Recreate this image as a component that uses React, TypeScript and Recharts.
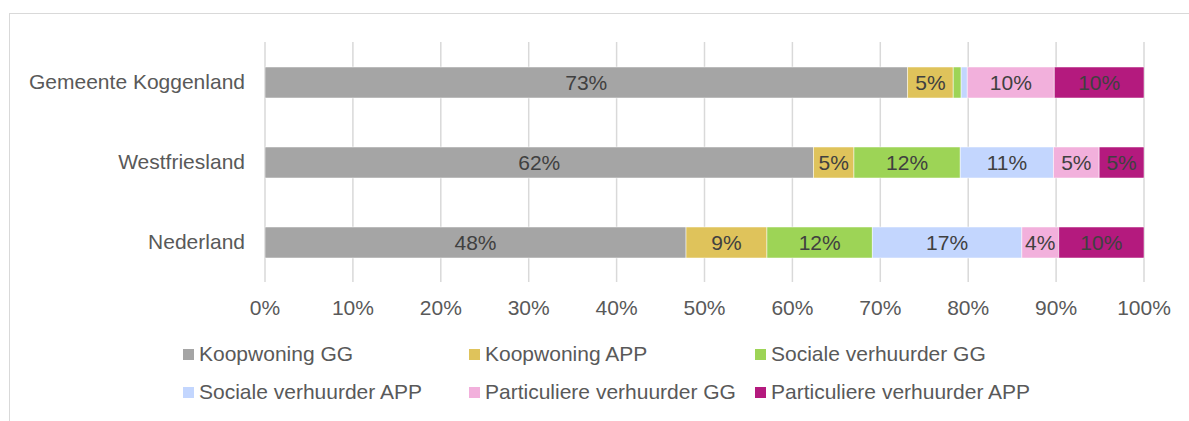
import React from "react";
import { BarChart, Bar, XAxis, YAxis, CartesianGrid, Legend, LabelList } from "recharts";

const categories = ["Gemeente Koggenland", "Westfriesland", "Nederland"];
const koopGG = [73.1, 62.4, 47.9];
const koopAPP = [5.2, 4.6, 9.2];
const socGG = [0.9, 12.1, 12.0];
const socAPP = [0.7, 10.6, 17.0];
const partGG = [9.9, 5.2, 4.2];
const partAPP = [10.2, 5.1, 9.7];
const xTicks = [0, 10, 20, 30, 40, 50, 60, 70, 80, 90, 100];

const series = [
  { key: "koopGG", name: "Koopwoning GG", color: "#A5A5A5", values: koopGG },
  { key: "koopAPP", name: "Koopwoning APP", color: "#DFC35B", values: koopAPP },
  { key: "socGG", name: "Sociale verhuurder GG", color: "#9DD456", values: socGG },
  { key: "socAPP", name: "Sociale verhuurder APP", color: "#C3D6FE", values: socAPP },
  { key: "partGG", name: "Particuliere verhuurder GG", color: "#F2B0DC", values: partGG },
  { key: "partAPP", name: "Particuliere verhuurder APP", color: "#B41A7E", values: partAPP },
];

const data = categories.map((name, i) => {
  const row: Record<string, string | number> = { name };
  series.forEach((s) => {
    row[s.key] = s.values[i];
  });
  return row;
});

const FONT = '"Liberation Sans", Arial, sans-serif';
const FS = 21;

function LegendBox() {
  return (
    <div
      style={{
        display: "grid",
        gridTemplateColumns: "286px 286px 286px",
        rowGap: 14,
        paddingLeft: 183,
        fontFamily: FONT,
        fontSize: FS,
        color: "#595959",
      }}
    >
      {series.map((s) => (
        <div key={s.key} style={{ display: "flex", alignItems: "center", height: 24 }}>
          <span style={{ width: 11, height: 11, background: s.color, marginRight: 5 }} />
          <span>{s.name}</span>
        </div>
      ))}
    </div>
  );
}

export default function App() {
  return (
    <div style={{ position: "relative", width: 1189, height: 421, overflow: "hidden", background: "#fff" }}>
      <style>{`body{margin:0}`}</style>
      <div
        style={{
          position: "absolute",
          left: 9,
          top: 13,
          width: 1300,
          height: 500,
          border: "1.5px solid #d9d9d9",
        }}
      />
      <div style={{ position: "absolute", left: 0, top: 0 }}>
        <BarChart
          width={1189}
          height={421}
          data={data}
          layout="vertical"
          margin={{ top: 42, right: 45, bottom: 37, left: 10 }}
          barSize={31}
        >
          <CartesianGrid horizontal={false} stroke="#d9d9d9" strokeWidth={1.5} />
          <XAxis
            type="number"
            domain={[0, 100]}
            ticks={xTicks}
            tickFormatter={(v) => `${v}%`}
            axisLine={false}
            tickLine={false}
            tickSize={0}
            tickMargin={18}
            height={40}
            tick={{ fill: "#595959", fontSize: FS, fontFamily: FONT }}
            allowDataOverflow
          />
          <YAxis
            type="category"
            dataKey="name"
            width={255}
            axisLine={false}
            tickLine={false}
            tickSize={0}
            tickMargin={20}
            tick={{ fill: "#595959", fontSize: FS, fontFamily: FONT }}
          />
          <Legend
            content={() => <LegendBox />}
            wrapperStyle={{ left: 0, top: 342, width: 1189 }}
          />
          {series.map((s) => (
            <Bar
              key={s.key}
              dataKey={s.key}
              name={s.name}
              stackId="a"
              fill={s.color}
              stroke="#ffffff"
              strokeWidth={0.5}
              isAnimationActive={false}
            >
              <LabelList
                dataKey={s.key}
                position="center"
                formatter={(v: number) => (v >= 2 ? `${Math.round(v)}%` : "")}
                style={{ fill: "#404040", fontSize: FS, fontFamily: FONT }}
              />
            </Bar>
          ))}
        </BarChart>
      </div>
    </div>
  );
}
